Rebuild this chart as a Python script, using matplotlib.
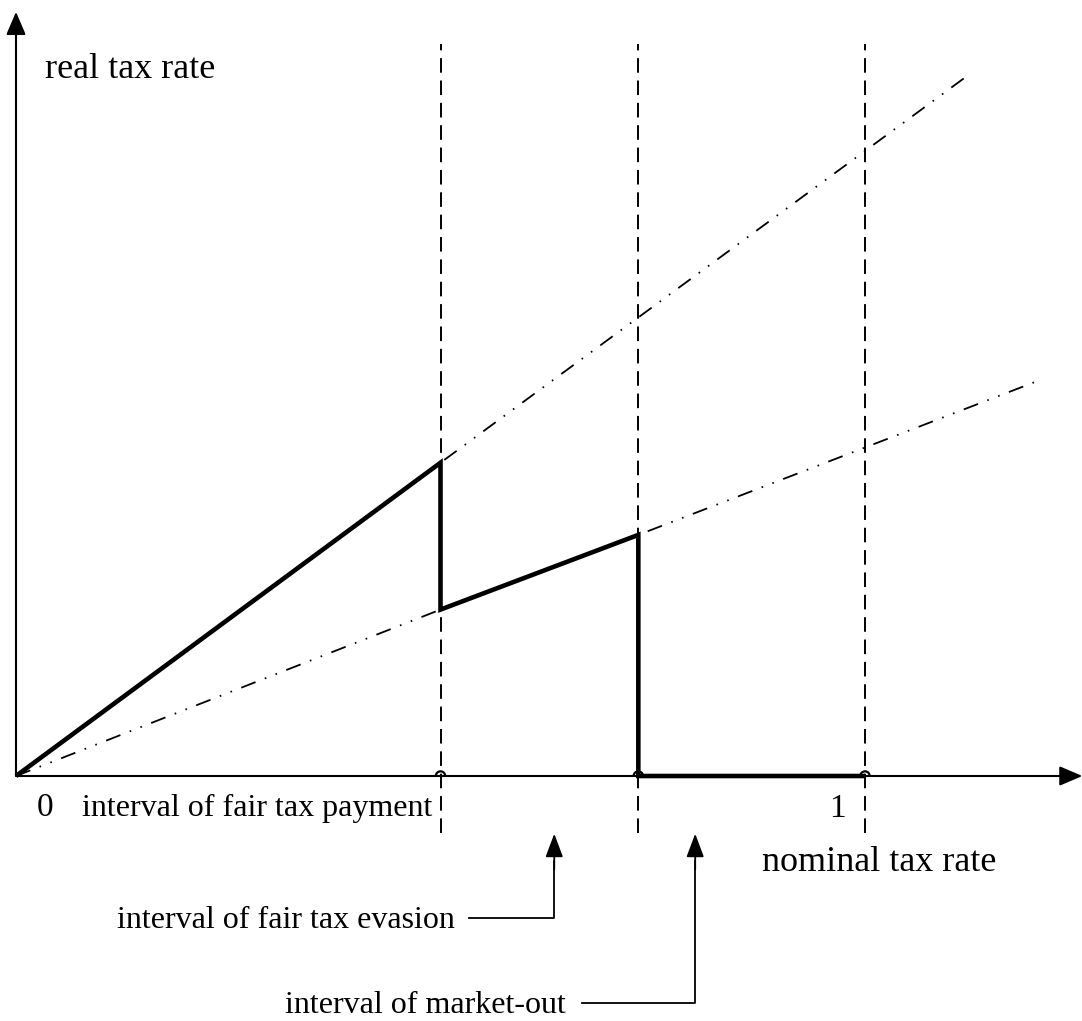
import matplotlib
matplotlib.use("Agg")
from matplotlib import pyplot as plt
from matplotlib.patches import Arc

plt.rcParams["font.family"] = ["Liberation Serif", "DejaVu Serif"]

# nominal tax rate breakpoints
T_FAIR = 0.50      # end of fair tax payment
T_OUT = 0.733      # end of fair tax evasion, start of market-out
T_ONE = 1.0

# real tax rate curve (thick)
curve_x = [0.0, T_FAIR, T_FAIR, T_OUT, T_OUT, T_ONE]
curve_y = [0.0, 0.369, 0.196, 0.284, 0.0, 0.0]

# auxiliary rays (dash-dot-dot)
steep_x = [0.0, T_FAIR, 1.125]
steep_y = [0.0, 0.369, 0.828]
shallow_x = [0.0, T_FAIR, T_OUT, 1.200]
shallow_y = [0.0, 0.196, 0.284, 0.464]

# vertical guide lines
guide_x = [T_FAIR, T_OUT, T_ONE]

# figure geometry: 849 px per unit, origin at pixel (16, 776)
W, H, DPI = 1082, 1021, 100
SCALE = 849.0
OX, OY = 16, 776

fig = plt.figure(figsize=(W / DPI, H / DPI), dpi=DPI)
ax = fig.add_axes([0, 0, 1, 1])
ax.set_xlim(-OX / SCALE, (W - OX) / SCALE)
ax.set_ylim((OY - H) / SCALE, OY / SCALE)
ax.axis("off")

# axes with arrows
arrow_kw = dict(arrowstyle="-|>,head_length=0.7,head_width=0.3", lw=1.5,
                color="black", mutation_scale=20, shrinkA=0, shrinkB=0)
ax.annotate("", xy=(0, 0.900), xytext=(0, 0), arrowprops=arrow_kw)
ax.annotate("", xy=(1.256, 0), xytext=(0, 0), arrowprops=arrow_kw)

# dashed vertical guides
for gx in guide_x:
    ax.plot([gx, gx], [-0.067, 0.862], color="black", lw=1.4,
            linestyle=(0, (7.5, 4)), zorder=2)
    ax.add_patch(Arc((gx, 0), 0.011, 0.011, theta1=0, theta2=180,
                     color="black", lw=1.6, zorder=4))

# dash-dot-dot rays
ddd = (0, (8.5, 5.5, 0.9, 5.5, 0.9, 5.5))
ax.plot(steep_x, steep_y, color="black", lw=1.3, linestyle=ddd, zorder=2)
ax.plot(shallow_x, shallow_y, color="black", lw=1.3, linestyle=ddd, zorder=2)

# thick real tax rate curve
ax.plot(curve_x, curve_y, color="black", lw=3.3, solid_joinstyle="miter",
        solid_capstyle="butt", zorder=3)

# labels
ax.text(0.034, 0.822, "real tax rate", fontsize=26, ha="left", va="baseline")
ax.text(0.879, -0.112, "nominal tax rate", fontsize=26, ha="left", va="baseline")
ax.text(0.034, -0.047, "0", fontsize=24, ha="center", va="baseline")
ax.text(0.967, -0.048, "1", fontsize=24, ha="center", va="baseline")
ax.text(0.078, -0.047, "interval of fair tax payment", fontsize=23,
        ha="left", va="baseline")
ax.text(0.119, -0.179, "interval of fair tax evasion", fontsize=23,
        ha="left", va="baseline")
ax.text(0.648, -0.279, "interval of market-out", fontsize=23,
        ha="right", va="baseline")

# leader arrows
lead_kw = dict(arrowstyle="-|>,head_length=0.8,head_width=0.3", lw=1.3,
               color="black", mutation_scale=18, shrinkA=0, shrinkB=0)
ax.plot([0.534, 0.634, 0.634], [-0.167, -0.167, -0.100], color="black", lw=1.3)
ax.annotate("", xy=(0.634, -0.068), xytext=(0.634, -0.110), arrowprops=lead_kw)
ax.plot([0.667, 0.800, 0.800], [-0.267, -0.267, -0.100], color="black", lw=1.3)
ax.annotate("", xy=(0.800, -0.068), xytext=(0.800, -0.110), arrowprops=lead_kw)

fig.savefig("out.png", dpi=DPI)
